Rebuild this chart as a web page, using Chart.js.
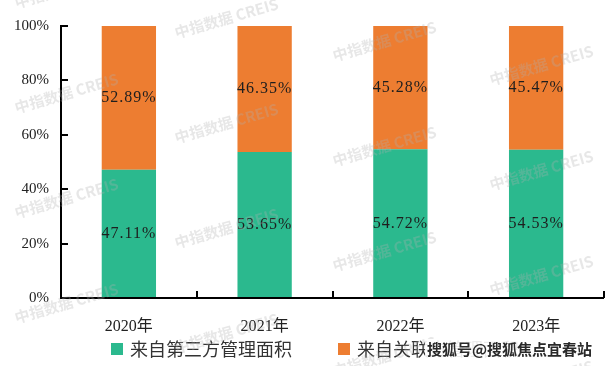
<!DOCTYPE html>
<html>
<head>
<meta charset="utf-8">
<script src="https://cdn.jsdelivr.net/npm/chart.js@4/dist/chart.umd.min.js"></script>
<style>
  html, body { margin: 0; padding: 0; background: #fff; }
  #wrap { width: 616px; height: 366px; position: relative; }
</style>
</head>
<body>
<div id="wrap"><canvas id="chart"></canvas></div>
<script>
// ── Data ──────────────────────────────────────────────────────────────────────
const categories = ['2020年', '2021年', '2022年', '2023年'];
const thirdPartyShare = [47.11, 53.65, 54.72, 54.53];
const affiliateShare = [52.89, 46.35, 45.28, 45.47];
const seriesNames = ['来自第三方管理面积', '来自关联方管理面积'];
const yTicks = [0, 20, 40, 60, 80, 100];

const GREEN = '#2bb98e';
const ORANGE = '#ed7d31';
const SERIF = "'Liberation Serif', 'Noto Sans CJK SC', serif";
const CJK = "'Noto Sans CJK SC', sans-serif";

// ── Plugins ───────────────────────────────────────────────────────────────────

// black axis lines with inward tick marks
const innerTicks = {
    id: 'innerTicks',
    afterDatasetsDraw(chart) {
        const { ctx, chartArea: { left, right, top, bottom }, scales: { y } } = chart;
        ctx.save();
        ctx.strokeStyle = '#000';
        ctx.lineWidth = 2;
        ctx.beginPath();
        ctx.moveTo(left, top - 1);
        ctx.lineTo(left, bottom);
        ctx.lineTo(right, bottom);
        yTicks.forEach((v) => {
            const py = Math.round(y.getPixelForValue(v));
            ctx.moveTo(left, py);
            ctx.lineTo(left + 7, py);
        });
        const n = categories.length;
        for (let k = 1; k <= n; k++) {
            const px = Math.round(left + (right - left) * k / n);
            ctx.moveTo(px, bottom);
            ctx.lineTo(px, bottom - 7);
        }
        ctx.stroke();
        ctx.restore();
    },
};

// percentage labels centred in each segment
const segmentLabels = {
    id: 'segmentLabels',
    afterDatasetsDraw(chart) {
        const { ctx } = chart;
        ctx.save();
        ctx.font = `16px ${SERIF}`;
        ctx.letterSpacing = '1px';
        ctx.fillStyle = '#1e1e1e';
        ctx.textAlign = 'center';
        ctx.textBaseline = 'middle';
        chart.data.datasets.forEach((ds, di) => {
            chart.getDatasetMeta(di).data.forEach((bar, i) => {
                const mid = (bar.y + bar.base) / 2;
                ctx.fillText(ds.data[i].toFixed(2) + '%', bar.x, mid);
            });
        });
        ctx.restore();
    },
};

// legend, faint tiled watermark and corner stamp
const overlay = {
    id: 'overlay',
    afterDraw(chart) {
        const { ctx } = chart;

        // legend
        const ly = 349;
        ctx.save();
        ctx.font = `18px ${CJK}`;
        ctx.textBaseline = 'middle';
        const starts = [111, 338];
        chart.data.datasets.forEach((ds, i) => {
            ctx.fillStyle = ds.backgroundColor;
            ctx.fillRect(starts[i], ly - 6, 12, 12);
            ctx.fillStyle = '#333';
            ctx.fillText(ds.label, starts[i] + 19, ly);
        });
        ctx.restore();

        // watermark tiles
        ctx.save();
        ctx.font = `bold 15px ${CJK}`;
        ctx.fillStyle = 'rgba(175,175,175,0.3)';
        ctx.textBaseline = 'middle';
        const cols = [15, 175, 333, 490];
        const yOff = [-5, 25, 48, 72];
        cols.forEach((cx, c) => {
            for (let r = 0; r < 4; r++) {
                const cy = yOff[c] + r * 105;
                ctx.save();
                ctx.translate(cx, cy + 8);
                ctx.rotate(-0.28);
                ctx.fillText('中指数据 CREIS', 0, 0);
                ctx.restore();
            }
        });
        ctx.restore();

        // corner stamp
        ctx.save();
        ctx.font = `bold 15px ${CJK}`;
        ctx.textBaseline = 'middle';
        const stamp = '搜狐号@搜狐焦点宜春站';
        const w = ctx.measureText(stamp).width;
        ctx.fillStyle = 'rgba(255,255,255,0.9)';
        ctx.fillRect(425, ly - 10, w + 4, 20);
        ctx.fillStyle = '#2a2a2a';
        ctx.fillText(stamp, 427, ly);
        ctx.restore();
    },
};

// ── Chart ─────────────────────────────────────────────────────────────────────

new Chart(document.getElementById('chart'), {
    type: 'bar',
    data: {
        labels: categories,
        datasets: [
            { label: seriesNames[0], data: thirdPartyShare, backgroundColor: GREEN },
            { label: seriesNames[1], data: affiliateShare, backgroundColor: ORANGE },
        ],
    },
    options: {
        responsive: true,
        maintainAspectRatio: false,
        animation: false,
        events: [],
        layout: { padding: { top: 26, right: 12, bottom: 32, left: 0 } },
        datasets: { bar: { categoryPercentage: 1, barPercentage: 0.4, borderWidth: 0 } },
        plugins: {
            legend: { display: false },
            tooltip: { enabled: false },
        },
        scales: {
            x: {
                stacked: true,
                grid: { display: false, offset: true },
                border: { display: false },
                ticks: { color: '#222', font: { family: SERIF, size: 16 }, padding: 11 },
                afterFit(scale) { scale.height = 36; },
            },
            y: {
                stacked: true,
                min: 0,
                max: 100,
                grid: { display: false, drawTicks: false },
                border: { display: false },
                ticks: {
                    stepSize: 20,
                    padding: 12,
                    color: '#222',
                    font: { family: SERIF, size: 15 },
                    callback: (v) => v + '%',
                },
                afterFit(scale) { scale.width = 61; },
            },
        },
    },
    plugins: [innerTicks, segmentLabels, overlay],
});
</script>
</body>
</html>
